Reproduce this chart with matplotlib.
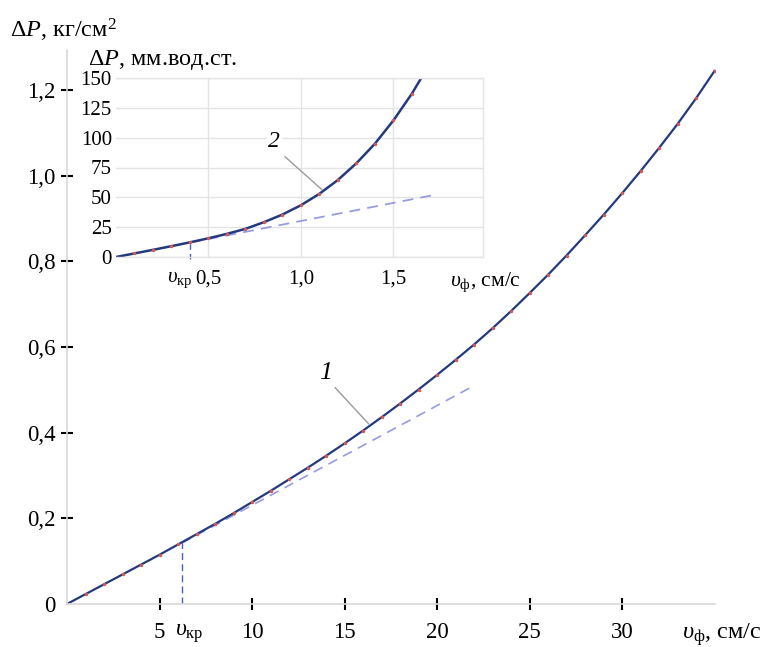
import matplotlib
matplotlib.use("Agg")
import matplotlib.pyplot as plt

plt.rcParams['font.family'] = ['Liberation Serif', 'DejaVu Serif']
plt.rcParams['mathtext.fontset'] = 'custom'
plt.rcParams['mathtext.rm'] = 'Liberation Serif'
plt.rcParams['mathtext.it'] = 'Liberation Serif:italic'

# main curve 1: velocity, cm/s -> pressure drop, kg/cm2
v_main = [0, 1, 2, 3, 4, 5, 6, 7, 8, 9, 10, 11, 12, 13, 14, 15, 16, 17, 18,
          19, 20, 21, 22, 23, 24, 25, 26, 27, 28, 29, 30, 31, 32, 33, 34, 35]
dp_main = [0, 0.023, 0.046, 0.069, 0.092, 0.115, 0.139, 0.163, 0.187, 0.212,
           0.238, 0.264, 0.291, 0.318, 0.346, 0.375, 0.405, 0.436, 0.468,
           0.501, 0.535, 0.570, 0.606, 0.644, 0.684, 0.726, 0.769, 0.814,
           0.861, 0.909, 0.959, 1.011, 1.065, 1.121, 1.181, 1.245]
tan_main_x = [6.2, 22.0]
tan_main_y = [0.142, 0.510]
vkr_main = 6.2
vkr_main_y = 0.142

# inset curve 2: velocity, cm/s -> pressure drop, mm water column
v_ins = [0, 0.1, 0.2, 0.3, 0.4, 0.5, 0.6, 0.7, 0.8, 0.9, 1.0, 1.1, 1.2, 1.3,
         1.4, 1.5, 1.6, 1.65]
dp_ins = [0, 3.0, 6.0, 9.1, 12.3, 15.7, 19.4, 23.6, 29.2, 35.6, 43.4, 53.0,
          64.6, 78.6, 95.0, 114.5, 137.0, 150.0]
tan_ins_x = [0.40, 1.72]
tan_ins_y = [12.0, 52.0]
vkr_ins = 0.40
vkr_ins_y = 12.3

main_xticks = [5, 10, 15, 20, 25, 30]
main_yticks = [0, 0.2, 0.4, 0.6, 0.8, 1.0, 1.2]
main_ylabels = ['0', '0,2', '0,4', '0,6', '0,8', '1,0', '1,2']
ins_xticks = [0.5, 1.0, 1.5]
ins_xlabels = ['0,5', '1,0', '1,5']
ins_yticks = [0, 25, 50, 75, 100, 125, 150]

curve_c = '#253a7c'
dot_c = '#d05a5a'
tan_c = '#979be3'
vkr_c = '#4a5cc7'
grid_c = '#e4e4e4'
W, H = 764, 647

fig = plt.figure(figsize=(7.64, 6.47), dpi=100)

# ---- main axes
ax = fig.add_axes([67 / W, 1 - 604 / H, 647.5 / W, 554 / H])
ax.set_xlim(0, 35)
ax.set_ylim(0, 1.294)
for s in ['top', 'right']:
    ax.spines[s].set_visible(False)
for s in ['left', 'bottom']:
    ax.spines[s].set_color('#d8d8d8')
    ax.spines[s].set_linewidth(1.2)
ax.plot(tan_main_x, tan_main_y, color=tan_c, lw=1.2, dashes=(6, 4))
ax.plot([vkr_main, vkr_main], [0, vkr_main_y], color=vkr_c, lw=1.0, dashes=(5, 3))
ax.plot(v_main, dp_main, color=curve_c, lw=1.6, solid_joinstyle='round')
ax.plot(v_main[1:], dp_main[1:], 'o', color=dot_c, ms=2.5, mew=0)
ax.set_xticks(main_xticks)
ax.set_xticklabels([str(t) for t in main_xticks])
ax.set_yticks(main_yticks)
ax.set_yticklabels(main_ylabels)
ax.tick_params(axis='x', direction='inout', length=8, width=1.5, color='black',
               labelsize=16.5, pad=9)
ax.tick_params(axis='y', direction='inout', length=8, width=1.5, color='black',
               labelsize=16.5, pad=4)
ax.yaxis.get_major_ticks()[0].tick1line.set_visible(False)
ax.annotate(r'$\upsilon_{\mathrm{кр}}$', xy=(6.6, 0), xycoords=ax.get_xaxis_transform(),
            xytext=(0, -12.5), textcoords='offset points', ha='center', va='top',
            fontsize=17)
# label 1
ax.plot([14.5, 16.3], [0.505, 0.421], color='#9a9a9a', lw=1)
ax.text(14.0, 0.515, '1', fontsize=19, style='italic', ha='center', va='bottom')

# ---- inset axes
ai = fig.add_axes([116 / W, 1 - 257 / H, 367 / W, 179 / H])
ai.set_xlim(0, 1.984)
ai.set_ylim(0, 150)
for s in ai.spines.values():
    s.set_color(grid_c)
    s.set_linewidth(1)
ai.spines['left'].set_visible(False)
ai.set_xticks(ins_xticks)
ai.set_xticklabels(ins_xlabels)
ai.set_yticks(ins_yticks)
ai.set_yticklabels([str(t) for t in ins_yticks])
ai.tick_params(length=0, labelsize=15)
ai.tick_params(axis='x', pad=9)
ai.tick_params(axis='y', pad=3)
ai.grid(True, color=grid_c, lw=1)
ai.plot(tan_ins_x, tan_ins_y, color=tan_c, lw=1.3, dashes=(6, 4))
ai.plot([vkr_ins, vkr_ins], [-2, vkr_ins_y], color=vkr_c, lw=1.0, dashes=(4, 3),
        clip_on=False)
ai.plot(v_ins, dp_ins, color=curve_c, lw=1.8, solid_joinstyle='round')
ai.plot(v_ins[1:-1], dp_ins[1:-1], 'o', color=dot_c, ms=2.5, mew=0)
ai.annotate(r'$\upsilon_{\mathrm{кр}}$', xy=(0.345, 0), xycoords=ai.get_xaxis_transform(),
            xytext=(0, -9), textcoords='offset points', ha='center', va='top',
            fontsize=15)
# label 2
ai.plot([0.914, 1.113], [84, 56.4], color='#9a9a9a', lw=1)
ai.text(0.855, 96.8, '2', fontsize=17, style='italic', ha='center', va='center',
        bbox=dict(facecolor='white', edgecolor='none', pad=1))

# ---- axis titles
fig.text(10 / W, 1 - 38 / H, r'$\Delta P$, кг/см$^2$', fontsize=17.5, va='baseline')
fig.text(88 / W, 1 - 65 / H, r'$\Delta P$, мм.вод.ст.', fontsize=17.5, va='baseline')
fig.text(450 / W, 1 - 286 / H, r'$\upsilon_{\mathrm{ф}}$, см/с', fontsize=15.5, va='baseline')
fig.text(682 / W, 1 - 639 / H, r'$\upsilon_{\mathrm{ф}}$, см/с', fontsize=17.5, va='baseline')

fig.savefig('out.png', dpi=100)
